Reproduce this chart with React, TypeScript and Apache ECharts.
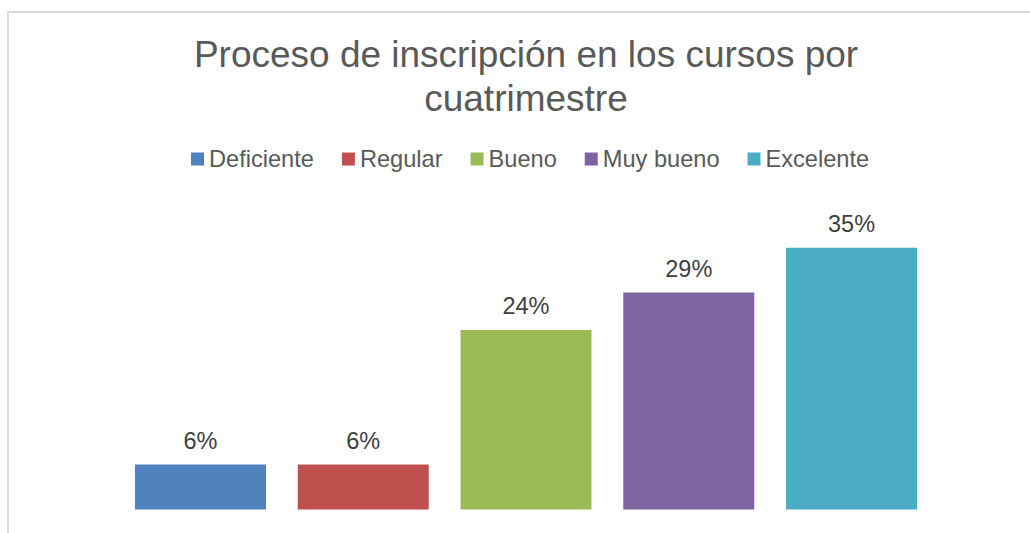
import React, { useEffect, useRef } from "react";
import * as echarts from "echarts";

const categories = ["Deficiente", "Regular", "Bueno", "Muy bueno", "Excelente"];
const values = [6, 6, 24, 29, 35];
const colors = ["#4F81BD", "#C0504D", "#9BBB59", "#8064A2", "#4BACC6"];
const titleLines = ["Proceso de inscripción en los cursos por", "cuatrimestre"];

const FONT = "'Liberation Sans', Arial, Helvetica, sans-serif";

export default function App() {
  const ref = useRef<HTMLDivElement>(null);
  useEffect(() => {
    if (!ref.current) return;
    const chart = echarts.init(ref.current, undefined, { renderer: "svg" });
    const series = categories.map((name, i) => ({
      name,
      type: "bar" as const,
      stack: "total",
      barWidth: 131,
      itemStyle: { color: colors[i] },
      label: {
        show: true,
        position: "top" as const,
        distance: 12,
        formatter: "{c}%",
        color: "#404040",
        fontSize: 23.5,
        fontFamily: FONT,
      },
      data: categories.map((_, j) => (j === i ? values[i] : "-")),
    }));
    chart.setOption({
      animation: false,
      backgroundColor: "#ffffff",
      title: {
        text: titleLines.join("\n"),
        left: "center",
        top: 33,
        padding: 0,
        textStyle: {
          fontFamily: FONT,
          fontSize: 37,
          fontWeight: "normal",
          color: "#595959",
          lineHeight: 43.5,
        },
      },
      legend: {
        data: categories,
        left: 191,
        top: 147,
        padding: 0,
        itemWidth: 13,
        itemHeight: 13,
        itemGap: 28,
        icon: "rect",
        textStyle: {
          fontFamily: FONT,
          fontSize: 23.6,
          color: "#595959",
          padding: [0, 0, 0, 0],
        },
      },
      grid: {
        left: 119.1,
        width: 813.8,
        top: 210.3,
        height: 299.2,
        containLabel: false,
      },
      xAxis: {
        type: "category",
        data: categories,
        show: false,
      },
      yAxis: {
        type: "value",
        min: 0,
        max: 40,
        show: false,
      },
      graphic: [
        {
          type: "rect",
          silent: true,
          shape: { x: 8, y: 12, width: 2000, height: 1000 },
          style: { fill: "none", stroke: "#d9d9d9", lineWidth: 2 },
        },
      ],
      series,
    });
    return () => chart.dispose();
  }, []);
  return (
    <div
      style={{
        position: "absolute",
        left: 0,
        top: 0,
        width: 1030,
        height: 533,
        overflow: "hidden",
        background: "#fff",
      }}
    >
      <div ref={ref} style={{ width: 1052, height: 533 }} />
    </div>
  );
}
